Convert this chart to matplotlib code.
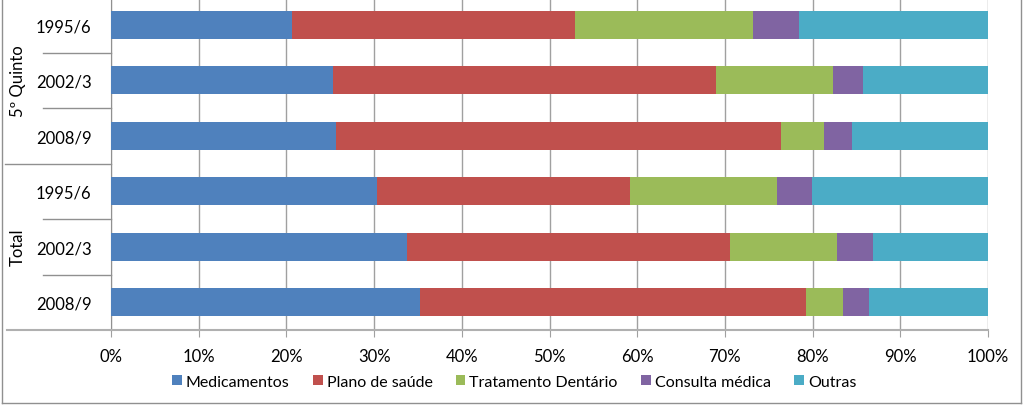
import matplotlib.pyplot as plt
from matplotlib.lines import Line2D
from matplotlib.ticker import PercentFormatter

plt.rcParams['font.family'] = ['Lato', 'DejaVu Sans']

# rows top to bottom
periods = ['1995/6', '2002/3', '2008/9', '1995/6', '2002/3', '2008/9']
groups = ['5º Quinto', 'Total']
series = ['Medicamentos', 'Plano de saúde', 'Tratamento Dentário', 'Consulta médica', 'Outras']
colors = ['#4F81BD', '#C0504D', '#9BBB59', '#8064A2', '#4BACC6']

medicamentos = [20.6, 25.3, 25.7, 30.3, 33.8, 35.2]
plano = [32.3, 43.7, 50.7, 28.9, 36.8, 44.0]
dentario = [20.3, 13.3, 4.9, 16.7, 12.2, 4.3]
consulta = [5.2, 3.5, 3.2, 4.0, 4.1, 2.9]
outras = [21.6, 14.2, 15.5, 20.1, 13.1, 13.6]

values = [medicamentos, plano, dentario, consulta, outras]

fig = plt.figure(figsize=(10.23, 4.06), dpi=100)
ax = fig.add_axes([111 / 1023, 1 - 331 / 406, 877 / 1023, 333 / 406])

ypos = list(range(len(periods)))
left = [0] * len(periods)
for name, vals, c in zip(series, values, colors):
    ax.barh(ypos, vals, left=left, height=0.5, color=c, label=name, zorder=3)
    left = [a + b for a, b in zip(left, vals)]

ax.set_xlim(0, 100)
ax.set_ylim(5.5, -0.5)
ax.set_xticks(range(0, 101, 10))
ax.xaxis.set_major_formatter(PercentFormatter(decimals=0))
ax.set_yticks(ypos)
ax.set_yticklabels(periods)
ax.tick_params(axis='y', length=0, pad=14, labelsize=12)
ax.tick_params(axis='x', length=5, color='#a0a0a0', labelsize=12, pad=8)
ax.grid(axis='x', color='#a0a0a0', linewidth=1, zorder=0)

for s in ['top', 'right']:
    ax.spines[s].set_visible(False)
ax.spines['left'].set_color('#909090')
ax.spines['bottom'].set_color('#b0b0b0')
ax.spines['bottom'].set_linewidth(1.5)

# category separators on the left
tr = ax.get_yaxis_transform()
for yb in [0.5, 1.5, 3.5, 4.5]:
    ax.add_line(Line2D([-0.0775, 0], [yb, yb], transform=tr, color='#909090', lw=1, clip_on=False))
ax.add_line(Line2D([-0.121, 0], [2.5, 2.5], transform=tr, color='#909090', lw=1, clip_on=False))
ax.add_line(Line2D([-0.119, 0], [5.5, 5.5], transform=tr, color='#b0b0b0', lw=1.5, clip_on=False))

# group labels
ax.text(-0.106, 1, groups[0], transform=tr, rotation=90, ha='center', va='center', fontsize=12)
ax.text(-0.106, 4, groups[1], transform=tr, rotation=90, ha='center', va='center', fontsize=12)

fig.legend(loc='center', bbox_to_anchor=(0.5025, 0.057), ncol=5, frameon=False,
           fontsize=11.5, handlelength=0.62, handleheight=0.62, handletextpad=0.25,
           columnspacing=1.45)

# chart area border
fig.add_artist(Line2D([2 / 1023, 2 / 1023], [2 / 406, 1], color='#909090', lw=1))
fig.add_artist(Line2D([2 / 1023, 1021 / 1023], [2 / 406, 2 / 406], color='#909090', lw=1))
fig.add_artist(Line2D([1021 / 1023, 1021 / 1023], [2 / 406, 1], color='#909090', lw=1))

fig.savefig('out.png', dpi=100)
